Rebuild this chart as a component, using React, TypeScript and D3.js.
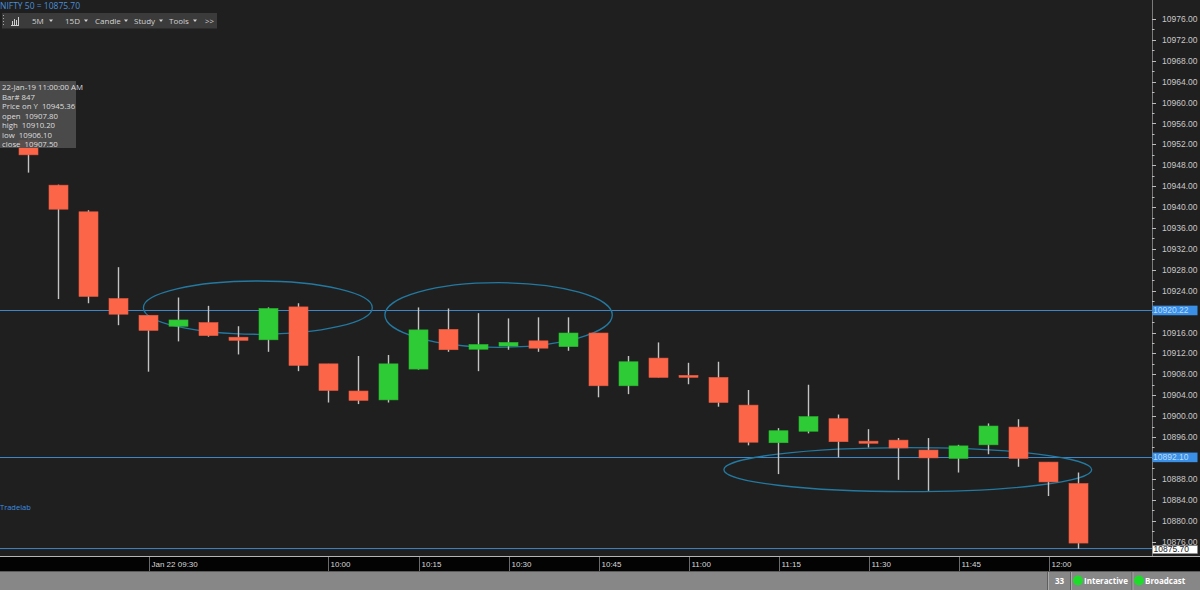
import React from "react";
import * as d3 from "d3";

// ---------- DATA ----------
const times = [
  "09:10","09:15","09:20","09:25","09:30","09:35","09:40","09:45","09:50","09:55",
  "10:00","10:05","10:10","10:15","10:20","10:25","10:30","10:35","10:40","10:45",
  "10:50","10:55","11:00","11:05","11:10","11:15","11:20","11:25","11:30","11:35",
  "11:40","11:45","11:50","11:55","12:00","12:05",
];
const opens = [
  10952.8, 10944.2, 10939.1, 10922.5, 10919.3, 10917.2, 10917.9, 10915.1, 10914.6, 10920.9,
  10910.0, 10904.8, 10903.1, 10909.0, 10916.6, 10912.8, 10913.4, 10914.4, 10913.3, 10915.9,
  10905.8, 10911.1, 10907.8, 10907.4, 10902.1, 10894.9, 10897.1, 10899.5, 10895.2, 10895.4,
  10893.5, 10891.9, 10894.5, 10897.9, 10891.2, 10887.1,
];
const highs = [
  10954.0, 10944.3, 10939.4, 10928.5, 10919.3, 10922.7, 10921.1, 10917.2, 10920.8, 10921.6,
  10910.0, 10911.5, 10911.7, 10920.8, 10920.6, 10919.7, 10918.7, 10918.9, 10918.9, 10915.9,
  10911.5, 10914.1, 10910.2, 10910.4, 10905.0, 10897.7, 10906.0, 10900.3, 10897.5, 10895.8,
  10895.8, 10894.5, 10898.6, 10899.4, 10891.2, 10889.2,
];
const lows = [
  10946.6, 10922.4, 10921.6, 10917.4, 10908.5, 10914.3, 10915.2, 10911.8, 10912.3, 10908.6,
  10902.6, 10902.3, 10902.6, 10908.9, 10912.3, 10908.6, 10912.7, 10912.3, 10912.5, 10903.6,
  10904.2, 10907.4, 10906.1, 10901.8, 10894.4, 10888.9, 10896.7, 10892.1, 10894.0, 10887.8,
  10885.7, 10889.2, 10892.7, 10890.3, 10884.7, 10874.6,
];
const closes = [
  10950.0, 10939.6, 10922.9, 10919.5, 10916.4, 10918.4, 10915.4, 10914.5, 10920.6, 10909.7,
  10904.9, 10903.0, 10910.0, 10916.5, 10912.7, 10913.7, 10914.1, 10913.0, 10915.9, 10905.8,
  10910.4, 10907.4, 10907.5, 10902.6, 10895.0, 10897.2, 10899.9, 10895.1, 10894.8, 10893.9,
  10892.0, 10894.3, 10898.1, 10891.9, 10887.4, 10875.7,
];
const xTickTimes = ["09:30","10:00","10:15","10:30","10:45","11:00","11:15","11:30","11:45","12:00"];
const xTickLabels = ["Jan 22 09:30","10:00","10:15","10:30","10:45","11:00","11:15","11:30","11:45","12:00"];
const yTicks = d3.range(10876, 10977, 4);
const hLines = [10920.22, 10892.1];
const lastPrice = 10875.7;
// ellipse annotations: [indexFrom, indexTo, priceTop, priceBottom]
const ellipses = [
  [3.83, 11.46, 10925.86, 10915.66],
  [11.88, 19.46, 10925.53, 10913.17],
  [23.18, 35.44, 10893.95, 10885.53],
];
const toolbarItems = ["5M", "15D", "Candle", "Study", "Tools"];
const tooltipLines = [
  "22-Jan-19 11:00:00 AM",
  "Bar# 847",
  "Price on Y  10945.36",
  "open  10907.80",
  "high  10910.20",
  "low  10906.10",
  "close  10907.50",
];

// ---------- LAYOUT ----------
const W = 1200, H = 590;
const plotRight = 1152;
const axisTop = 557, axisBottom = 571;

export default function App() {
  const x = d3.scaleLinear().domain([0, 35]).range([28.5, 1078.5]);
  const y = d3.scaleLinear().domain([10876, 10976]).range([541.5, 19]);
  const bodyW = 19;
  const red = "#fd6549";
  const green = "#2fcb36";
  const font = "'Liberation Sans', Arial, sans-serif";
  const uiFont = "'Open Sans', 'DejaVu Sans', sans-serif";

  const candles = times.map((t, i) => ({
    t, i, o: opens[i], h: highs[i], l: lows[i], c: closes[i],
  }));

  const minorTicks = d3.range(10876, 10977, 2).filter((v) => (v - 10876) % 4 !== 0);
  // labels hidden under the level boxes
  const visibleLabel = (v: number) => hLines.every((h) => Math.abs(y(v) - y(h)) > 7);

  const toolbarX = [32, 65, 95, 134, 169];
  const arrowX = [51, 86, 126, 161, 195];

  return (
    <svg width={W} height={H} style={{ position: "fixed", left: 0, top: 0, display: "block" }}>
      <rect x={0} y={0} width={W} height={H} fill="#1f1f1f" />
      {/* right axis line */}
      <line x1={plotRight + 0.5} x2={plotRight + 0.5} y1={0} y2={axisTop} stroke="#7a7a7a" strokeWidth={1} />
      {/* y ticks */}
      {yTicks.map((v) => (
        <g key={v}>
          <line x1={plotRight} x2={plotRight + 4} y1={Math.round(y(v)) + 0.5} y2={Math.round(y(v)) + 0.5} stroke="#bdbdbd" />
          {visibleLabel(v) && (
            <text x={plotRight + 10} y={y(v) + 3} fill="#c8c8c8" fontSize={8.5} fontFamily={font}>
              {v.toFixed(2)}
            </text>
          )}
        </g>
      ))}
      {minorTicks.map((v) => (
        <line key={v} x1={plotRight} x2={plotRight + 2.5} y1={Math.round(y(v)) + 0.5} y2={Math.round(y(v)) + 0.5} stroke="#bdbdbd" />
      ))}

      {/* horizontal level lines */}
      {hLines.map((v) => (
        <g key={v}>
          <line x1={0} x2={plotRight} y1={Math.round(y(v)) + 0.5} y2={Math.round(y(v)) + 0.5} stroke="#3f86c9" strokeWidth={1} />
          <rect x={plotRight + 0.5} y={y(v) - 4.8} width={45} height={9.6} fill="#3a8fe6" />
          <text x={plotRight + 1} y={y(v) + 3} fill="#b9dcff" fontSize={8.5} fontFamily={font}>
            {v.toFixed(2)}
          </text>
        </g>
      ))}
      {/* last price line */}
      <line x1={0} x2={plotRight} y1={y(lastPrice) + 5.5} y2={y(lastPrice) + 5.5} stroke="#3f86c9" strokeWidth={1} />

      {/* ellipses */}
      {ellipses.map((e, k) => {
        const x0 = x(e[0]), x1 = x(e[1]), y0 = y(e[2]), y1 = y(e[3]);
        return (
          <ellipse key={k} cx={(x0 + x1) / 2} cy={(y0 + y1) / 2} rx={(x1 - x0) / 2} ry={(y1 - y0) / 2}
            fill="none" stroke="#2379a0" strokeWidth={1.3} />
        );
      })}

      {/* candles */}
      {candles.map((d) => {
        const up = d.c >= d.o;
        const top = y(Math.max(d.o, d.c));
        const bot = y(Math.min(d.o, d.c));
        const cx = x(d.i);
        return (
          <g key={d.i}>
            <line x1={cx} x2={cx} y1={y(d.h)} y2={y(d.l)} stroke="#c4c4c4" strokeWidth={1.4} />
            <rect x={cx - bodyW / 2} y={top} width={bodyW} height={Math.max(bot - top, 2)}
              fill={up ? green : red} stroke={up ? "#29b830" : "#e85a40"} strokeWidth={0.6} />
          </g>
        );
      })}

      {/* last price label */}
      <rect x={plotRight + 0.5} y={y(lastPrice) + 2.5} width={45} height={8} fill="#ffffff" stroke="#888" strokeWidth={0.5} />
      <text x={plotRight + 1.5} y={y(lastPrice) + 9.3} fill="#222" fontSize={8.5} fontFamily={font}>
        {lastPrice.toFixed(2)}
      </text>

      {/* tooltip */}
      <rect x={0} y={81} width={76} height={67} fill="#4d4d4d" opacity={0.93} />
      {tooltipLines.map((s, k) => (
        <text key={k} x={2} y={90 + k * 9.5} fill="#dedede" fontSize={7.8} fontFamily={uiFont}
          style={{ whiteSpace: "pre" }}>
          {s}
        </text>
      ))}

      {/* header */}
      <text x={0} y={9} fill="#4b8fd8" fontSize={8.5} fontFamily={uiFont}>NIFTY 50 = 10875.70</text>
      <rect x={2} y={13} width={215} height={15.5} fill="#3b3b3b" />
      {[15, 18, 21, 24].map((yy) => (
        <rect key={yy} x={3} y={yy} width={1} height={1} fill="#aaa" />
      ))}
      {/* small chart icon */}
      <g stroke="#d0d0d0" strokeWidth={1}>
        <line x1={11} x2={19} y1={25.5} y2={25.5} />
        <line x1={12.5} x2={12.5} y1={25} y2={21} />
        <line x1={14.5} x2={14.5} y1={25} y2={19} />
        <line x1={16.5} x2={16.5} y1={25} y2={20} />
        <line x1={18.5} x2={18.5} y1={25} y2={17} />
      </g>
      {toolbarItems.map((s, k) => (
        <g key={s}>
          <text x={toolbarX[k]} y={23.5} fill="#d2d2d2" fontSize={8} fontFamily={uiFont}>{s}</text>
          <path d={`M${arrowX[k] - 2},19.5 L${arrowX[k] + 2},19.5 L${arrowX[k]},22 Z`} fill="#d2d2d2" />
        </g>
      ))}
      <text x={205} y={23.5} fill="#d2d2d2" fontSize={8} fontFamily={uiFont}>&gt;&gt;</text>

      {/* Tradelab */}
      <text x={0} y={510} fill="#3d8fe0" fontSize={7.5} fontFamily={uiFont}>Tradelab</text>

      {/* x axis */}
      <line x1={0} x2={W} y1={axisTop - 0.5} y2={axisTop - 0.5} stroke="#b5b5b5" />
      <rect x={0} y={axisTop} width={W} height={axisBottom - axisTop} fill="#030303" />
      {xTickTimes.map((t, k) => {
        const i = times.indexOf(t);
        const xx = Math.round(x(i)) + 0.5;
        return (
          <g key={t}>
            <line x1={xx} x2={xx} y1={axisTop} y2={axisBottom} stroke="#6a6a6a" />
            <text x={xx + 2} y={axisTop + 9.5} fill="#d8d8d8" fontSize={8} fontFamily={font}>
              {xTickLabels[k]}
            </text>
          </g>
        );
      })}

      {/* status bar */}
      <rect x={0} y={axisBottom} width={W} height={H - axisBottom} fill="#878787" />
      <line x1={0} x2={W} y1={axisBottom + 0.5} y2={axisBottom + 0.5} stroke="#5a5a5a" />
      {[1047.5, 1070.5, 1132].map((sx) => (
        <g key={sx}>
          <line x1={sx} x2={sx} y1={axisBottom + 1} y2={H} stroke="#5e5e5e" />
          <line x1={sx + 1} x2={sx + 1} y1={axisBottom + 1} y2={H} stroke="#a8a8a8" />
        </g>
      ))}
      <text x={1055} y={584} fill="#ffffff" fontSize={8} fontWeight="bold" fontFamily={uiFont}>33</text>
      <circle cx={1078} cy={580.5} r={5} fill="#1fdc2a" />
      <text x={1084} y={584} fill="#ffffff" fontSize={8} fontWeight="bold" fontFamily={uiFont}>Interactive</text>
      <circle cx={1139} cy={580.5} r={5} fill="#1fdc2a" />
      <text x={1145} y={584} fill="#ffffff" fontSize={8} fontWeight="bold" fontFamily={uiFont}>Broadcast</text>
    </svg>
  );
}
